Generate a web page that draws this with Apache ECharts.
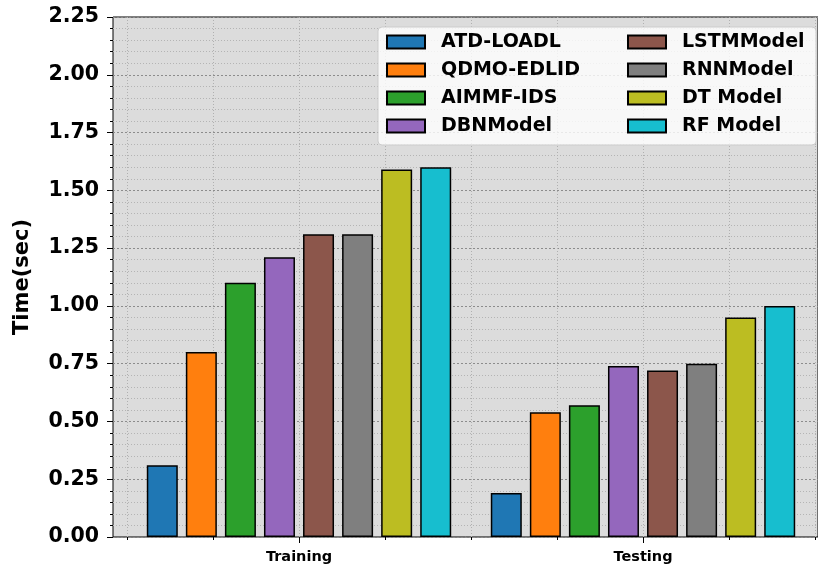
<!DOCTYPE html>
<html>
<head>
<meta charset="utf-8">
<script src="https://cdn.jsdelivr.net/npm/echarts@6/dist/echarts.min.js"></script>
<style>
  html, body { margin: 0; padding: 0; background: #fff; }
  #chart { width: 818px; height: 566px; }
</style>
</head>
<body>
<div id="chart"></div>
<script>
// data
var categories = ["Training", "Testing"];
var models = ["ATD-LOADL", "QDMO-EDLID", "AIMMF-IDS", "DBNModel", "LSTMModel", "RNNModel", "DT Model", "RF Model"];
var atdLoadl = [0.31, 0.19];
var qdmoEdlid = [0.80, 0.54];
var aimmfIds = [1.10, 0.57];
var dbnModel = [1.21, 0.74];
var lstmModel = [1.31, 0.72];
var rnnModel = [1.31, 0.75];
var dtModel = [1.59, 0.95];
var rfModel = [1.60, 1.00];
var seriesValues = [atdLoadl, qdmoEdlid, aimmfIds, dbnModel, lstmModel, rnnModel, dtModel, rfModel];
var colors = ["#1f77b4", "#ff7f0e", "#2ca02c", "#9467bd", "#8c564b", "#7f7f7f", "#bcbd22", "#17becf"];

var chart = echarts.init(document.getElementById("chart"));
var font = "DejaVu Sans";

var series = [];
for (var i = 0; i < models.length; i++) {
  series.push({
    name: models[i],
    type: "bar",
    xAxisIndex: 2,
    yAxisIndex: 2,
    data: seriesValues[i],
    barWidth: 31,
    barGap: "26%",
    itemStyle: { color: colors[i], borderColor: "#000", borderWidth: 1.5 },
  });
}

var legendCommon = {
  orient: "vertical",
  top: 32,
  padding: 0,
  icon: "rect",
  itemWidth: 38,
  itemHeight: 13,
  itemGap: 8,
  textStyle: {
    fontFamily: font,
    fontWeight: "bold",
    fontSize: 19,
    color: "#000",
    lineHeight: 20,
    padding: [0, 0, 0, 11],
  },
};

var option = {
  animation: false,
  color: colors,
  graphic: {
    elements: [
      {
        type: "rect",
        z: 3,
        shape: { x: 378, y: 27, width: 438, height: 118, r: 4 },
        style: { fill: "rgba(255,255,255,0.8)", stroke: "#cccccc", lineWidth: 1 },
      },
    ],
  },
  legend: [
    Object.assign({}, legendCommon, { left: 386, data: models.slice(0, 4) }),
    Object.assign({}, legendCommon, { left: 627, data: models.slice(4) }),
  ],
  grid: [
    {
      left: 113, right: -11, top: 17, bottom: 29,
      show: true, backgroundColor: "#dcdcdc", borderColor: "#000", borderWidth: 1,
    },
    { left: 127, right: 3, top: 17, bottom: 29 },
    { left: 127, right: 3, top: 17, bottom: 29 },
  ],
  xAxis: [
    { gridIndex: 0, type: "value", show: false },
    {
      gridIndex: 1,
      type: "value",
      min: -0.5,
      max: 1.5,
      interval: 0.25,
      axisLine: { show: false },
      axisLabel: { show: false },
      axisTick: { show: true, length: 3, lineStyle: { color: "#000" } },
      splitLine: { show: true, lineStyle: { color: "#b0b0b0", type: [1, 2], width: 1 } },
    },
    {
      gridIndex: 2,
      type: "category",
      data: categories,
      axisLine: { show: false },
      axisTick: { show: true, alignWithLabel: true, length: 6, lineStyle: { color: "#000" } },
      axisLabel: {
        fontFamily: font, fontWeight: "bold", fontSize: 14.5, color: "#000", margin: 13,
      },
      splitLine: { show: false },
    },
  ],
  yAxis: [
    {
      gridIndex: 0,
      type: "value",
      min: 0,
      max: 2.25,
      interval: 0.25,
      name: "Time(sec)",
      nameLocation: "middle",
      nameGap: 80,
      nameRotate: 90,
      nameTextStyle: { fontFamily: font, fontWeight: "bold", fontSize: 21, color: "#000" },
      axisLine: { show: false },
      axisTick: { show: true, length: 6, lineStyle: { color: "#000" } },
      minorTick: { show: true, splitNumber: 5, length: 3, lineStyle: { color: "#000" } },
      axisLabel: {
        fontFamily: font, fontWeight: "bold", fontSize: 20.5, color: "#000", margin: 14,
        formatter: function (v) { return v.toFixed(2); },
      },
      splitLine: { show: true, lineStyle: { color: "#8c8c8c", type: [2, 2], width: 1 } },
      minorSplitLine: { show: true, lineStyle: { color: "#b4b4b4", type: [1, 2], width: 1 } },
    },
    { gridIndex: 1, type: "value", min: 0, max: 2.25, show: false },
    { gridIndex: 2, type: "value", min: 0, max: 2.25, show: false },
  ],
  series: series,
};

chart.setOption(option);
</script>
</body>
</html>
